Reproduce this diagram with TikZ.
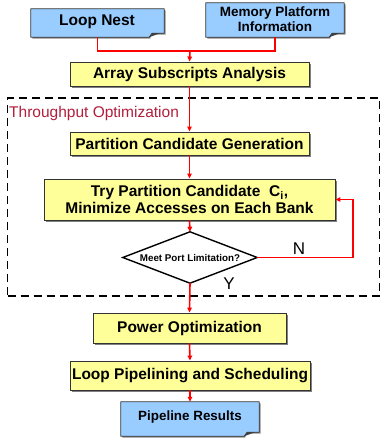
\documentclass[tikz,border=0pt]{standalone}
\usepackage{fontspec}
\setmainfont{Liberation Sans}
\usetikzlibrary{arrows.meta,calc,shadows}
\definecolor{yelfill}{HTML}{FFFF99}
\definecolor{bluefill}{HTML}{99CCFF}
\definecolor{labred}{HTML}{B01E3C}
\newcommand\docoutline[1]{%
  \path let \p1=(#1.north west), \p2=(#1.south east) in
    [fill=black!45] (\x1+1.5pt,\y1-1.5pt) -- (\x2+1.5pt,\y1-1.5pt) -- (\x2+1.5pt,\y2+2.5pt) -- (\x2-13pt,\y2+2.5pt) -- (\x2-14pt,\y2-1.5pt) -- (\x1+1.5pt,\y2-1.5pt) -- cycle;
  \path let \p1=(#1.north west), \p2=(#1.south east) in
    [fill=bluefill, draw=black!80, line width=0.8pt, line join=round]
    (\x1,\y1) -- (\x2,\y1) -- (\x2,\y2+4pt) -- (\x2-12pt,\y2+4pt) .. controls (\x2-13.5pt,\y2+2.5pt) .. (\x2-15pt,\y2) -- (\x1,\y2) -- cycle;
  \path let \p2=(#1.south east) in
    [fill=black!75] (\x2-15pt,\y2) -- (\x2-12pt,\y2+4pt) -- (\x2-4pt,\y2+4pt) -- cycle;
}
\begin{document}
\begin{tikzpicture}[x=1pt,y=-1pt,
  proc/.style={draw=black!80, fill=yelfill, line width=0.9pt, inner sep=0pt,
    align=center, font=\bfseries\fontsize{15.5}{17}\selectfont,
    drop shadow={shadow xshift=1.5pt, shadow yshift=-1.5pt, fill=black!50, opacity=1}},
  docnode/.style={inner sep=0pt, align=center},
  arr/.style={draw=red, line width=1.6pt, -{Triangle[length=5pt,width=4.5pt]}},
  link/.style={draw=red, line width=1.6pt},
  lbl/.style={font=\fontsize{15.5}{17}\selectfont, inner sep=0pt}
]
\useasboundingbox (0,0) rectangle (381,439);

% dashed region
\node[draw=black, dashed, dash pattern=on 8pt off 5pt, line width=1.4pt,
  minimum width=372pt, minimum height=198pt, inner sep=0pt] (tp) at (193.5,197) {};
\node[lbl, anchor=west, text=labred] (tlabel) at (9,113) {Throughput Optimization};

% source documents
\node[docnode, minimum width=133pt, minimum height=28pt] (ln) at (97.5,23) {};
\docoutline{ln}
\node[font=\bfseries\fontsize{15.5}{17}\selectfont, inner sep=0pt] (lnt) at (97,22) {Loop Nest};

\node[docnode, minimum width=138pt, minimum height=34pt] (mp) at (275,20) {};
\docoutline{mp}
\node[font=\bfseries\fontsize{13.5}{15}\selectfont, inner sep=0pt, align=center] (mpt) at (275,19) {Memory Platform\\Information};

% process boxes
\node[proc, minimum width=239pt, minimum height=24pt] (asa) at (189.5,74) {Array Subscripts Analysis};
\node[proc, minimum width=239pt, minimum height=23pt] (pcg) at (189.5,143.5) {Partition Candidate Generation};
\node[proc, minimum width=291pt, minimum height=41pt] (try) at (189.5,199.5)
  {Try Partition Candidate\ \ C\textsubscript{i},\\Minimize Accesses on Each Bank};

% decision
\node[minimum width=134pt, minimum height=51pt, inner sep=0pt,
  font=\bfseries\fontsize{9.8}{11}\selectfont] (dec) at (190,257.5) {Meet Port Limitation?};
\draw[black, line width=1.4pt, line join=miter] (dec.north) -- (dec.east) -- (dec.south) -- (dec.west) -- cycle;

\node[proc, minimum width=193pt, minimum height=30pt] (pow) at (189.5,328) {Power Optimization};
\node[proc, minimum width=240pt, minimum height=29pt] (lps) at (190,375.5) {Loop Pipelining and Scheduling};

\node[docnode, minimum width=138pt, minimum height=34pt] (pr) at (190,419) {};
\docoutline{pr}
\node[font=\bfseries\fontsize{13.4}{15}\selectfont, inner sep=0pt] (prt) at (190,417) {Pipeline Results};

% connectors
\coordinate (merge) at (190,51);
\draw[link] (ln.south) |- (merge);
\draw[link] (mp.south) |- (merge);
\draw[arr] (merge) -- (asa.north);
\draw[arr] (asa.south) -- (pcg.north);
\draw[arr] (pcg.south) -- (try.north);
\draw[arr] (try.south) -- (dec.north);
\draw[arr] (dec.south) -- (pow.north);
\draw[arr] (pow.south) -- (lps.north);
\draw[arr] (lps.south) -- (pr.north);
\coordinate (nturn) at (353,199.5);
\draw[arr] (dec.east) -| (nturn) -- (try.east);

\node[lbl, font=\fontsize{17}{19}\selectfont] (nlab) at (299,249) {N};
\node[lbl, font=\fontsize{17}{19}\selectfont] (ylab) at (229,284) {Y};
\end{tikzpicture}
\end{document}
